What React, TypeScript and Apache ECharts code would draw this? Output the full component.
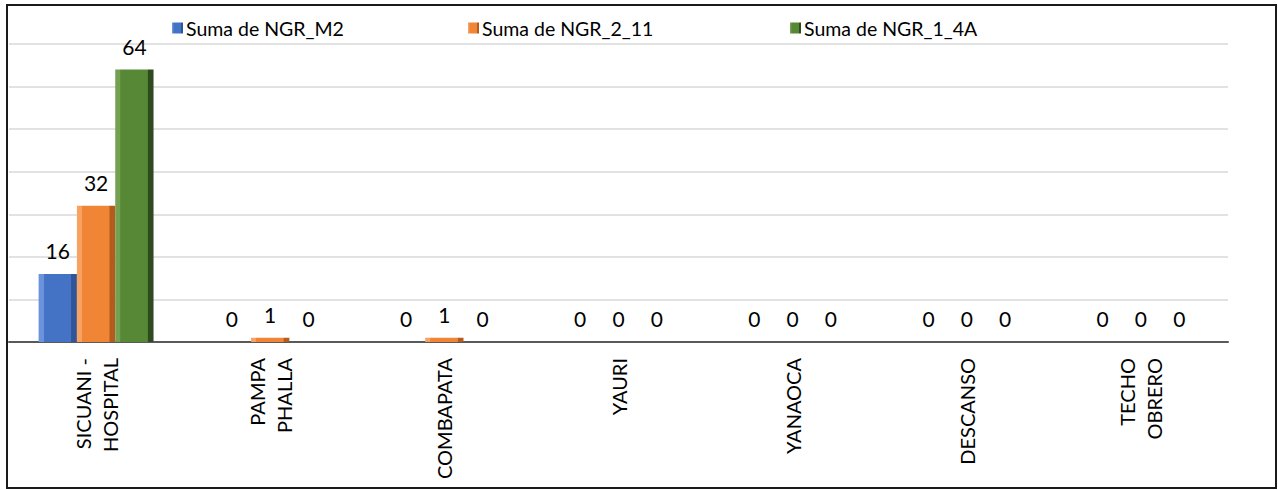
import React, { useEffect, useRef } from "react";
import * as echarts from "echarts";

const categories = [
  "SICUANI -\nHOSPITAL",
  "PAMPA\nPHALLA",
  "COMBAPATA",
  "YAURI",
  "YANAOCA",
  "DESCANSO",
  "TECHO\nOBRERO",
];
const seriesNames = ["Suma de NGR_M2", "Suma de NGR_2_11", "Suma de NGR_1_4A"];
const ngrM2 = [16, 0, 0, 0, 0, 0, 0];
const ngr211 = [32, 1, 1, 0, 0, 0, 0];
const ngr14A = [64, 0, 0, 0, 0, 0, 0];

const FONT = "Lato, 'Liberation Sans', sans-serif";

function bevel(light: string, mid: string, dark: string) {
  return new echarts.graphic.LinearGradient(0, 0, 1, 0, [
    { offset: 0, color: light },
    { offset: 0.13, color: light },
    { offset: 0.14, color: mid },
    { offset: 0.84, color: mid },
    { offset: 0.86, color: dark },
    { offset: 1, color: dark },
  ]);
}

export default function App() {
  const ref = useRef<HTMLDivElement>(null);
  useEffect(() => {
    if (!ref.current) return;
    const chart = echarts.init(ref.current, null, { renderer: "svg" });
    const colors = [
      bevel("#6b93db", "#4472c4", "#2f5597"),
      bevel("#f7a263", "#f08535", "#b35c1e"),
      bevel("#74a051", "#568836", "#2f4a1e"),
    ];
    const datas = [ngrM2, ngr211, ngr14A];
    const legendLeft = [167, 463, 785];
    const option: any = {
      animation: false,
      backgroundColor: "#ffffff",
      textStyle: { fontFamily: FONT },
      grid: { left: 9, right: 50, top: 44, bottom: 148, containLabel: false },
      legend: seriesNames.map((n, i) => ({
        data: [n],
        left: legendLeft[i],
        top: 13,
        itemWidth: 11,
        itemHeight: 11,
        itemGap: 4,
        icon: "rect",
        textStyle: { fontFamily: FONT, fontSize: 19.5, color: "#000", padding: [0, 0, 0, -2] },
      })),
      xAxis: {
        type: "category",
        data: categories,
        axisTick: { show: false },
        axisLine: { lineStyle: { color: "#595959", width: 2 } },
        axisLabel: {
          rotate: 90,
          interval: 0,
          margin: 16,
          fontFamily: FONT,
          fontSize: 20,
          lineHeight: 27,
          color: "#000",
        },
      },
      yAxis: {
        type: "value",
        min: 0,
        max: 70,
        interval: 10,
        axisLabel: { show: false },
        axisLine: { show: false },
        axisTick: { show: false },
        splitLine: { lineStyle: { color: "#d9d9d9", width: 1.5 } },
      },
      series: seriesNames.map((n, i) => ({
        name: n,
        type: "bar",
        data: datas[i],
        barGap: "0%",
        barCategoryGap: "34%",
        itemStyle: { color: colors[i] },
        label: {
          show: true,
          position: "top",
          distance: 13,
          fontFamily: FONT,
          fontSize: 21,
          color: "#000",
        },
      })),
      graphic: [
        {
          type: "rect",
          shape: { x: 7, y: 5, width: 1269, height: 483 },
          style: { fill: "none", stroke: "#1a1a1a", lineWidth: 2 },
          silent: true,
          z: 100,
        },
      ],
    };
    chart.setOption(option);
    return () => chart.dispose();
  }, []);
  return (
    <div
      ref={ref}
      style={{ position: "absolute", left: 0, top: 0, width: 1278, height: 490 }}
    />
  );
}
